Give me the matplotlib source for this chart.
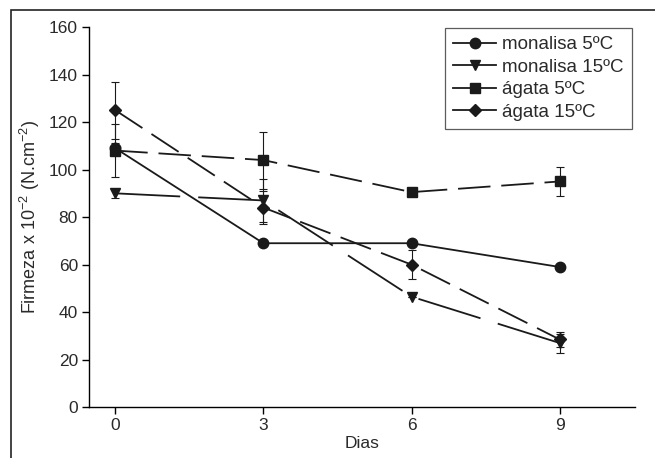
import numpy as np
import matplotlib.pyplot as plt
from matplotlib.patches import Rectangle

plt.rcParams['font.family'] = ['Liberation Sans', 'DejaVu Sans']
plt.rcParams['mathtext.fontset'] = 'custom'
plt.rcParams['mathtext.rm'] = 'Liberation Sans'
plt.rcParams['mathtext.it'] = 'Liberation Sans:italic'

# data
dias = [0, 3, 6, 9]
monalisa_5 = [109, 69, 69, 59]
monalisa_5_err = [2, 0, 0, 0]
monalisa_15 = [90, 87, 46.5, 27]
monalisa_15_err = [2, 9, 0, 4]
agata_5 = [108, 104, 90.5, 95]
agata_5_err = [11, 12, 0, 6]
agata_15 = [125, 84, 60, 28.5]
agata_15_err = [12, 7, 6, 3]

labels = ['monalisa 5ºC', 'monalisa 15ºC', 'ágata 5ºC', 'ágata 15ºC']

txt = '#2a2a2a'
fig = plt.figure(figsize=(6.55, 4.58), dpi=100)
ax = fig.add_axes([0.136, 0.111, 0.833, 0.830])

# border around the figure
fig.patches.append(Rectangle((11/655, -0.02), 1.0, 1 - 10/458 + 0.02,
                             transform=fig.transFigure, fill=False,
                             edgecolor='#222222', linewidth=1.2))

series = [
    (monalisa_5, monalisa_5_err, 'o', 7.5, '-'),
    (monalisa_15, monalisa_15_err, 'v', 7.5, (0, (36, 10))),
    (agata_5, agata_5_err, 's', 6.5, (0, (18, 6))),
    (agata_15, agata_15_err, 'D', 6.5, (0, (18, 6))),
]

handles = []
for (vals, err, mk, ms, ls), lab in zip(series, labels):
    ax.errorbar(dias, vals, yerr=err, fmt='none', ecolor='#1a1a1a',
                elinewidth=0.8, capsize=3, capthick=0.8, zorder=2)
    ax.plot(dias, vals, color='#1a1a1a', linestyle=ls, linewidth=1.3,
            marker=mk, markersize=ms, markerfacecolor='#1a1a1a',
            markeredgecolor='#1a1a1a', zorder=3)
    h, = ax.plot([], [], color='#1a1a1a', linestyle='-', linewidth=1.3,
                 marker=mk, markersize=ms, markerfacecolor='#1a1a1a')
    handles.append(h)

ax.set_xlim(-0.53, 10.52)
ax.set_ylim(0, 160)
ax.set_xticks([0, 3, 6, 9])
ax.set_yticks(np.arange(0, 161, 20))
ax.spines['top'].set_visible(False)
ax.spines['right'].set_visible(False)
ax.spines['left'].set_linewidth(1.0)
ax.spines['bottom'].set_linewidth(1.0)
ax.tick_params(direction='out', length=5, width=1.0, labelsize=12.5, pad=3,
               labelcolor=txt)

ax.set_xlabel('Dias', fontsize=12.5, labelpad=2, color=txt)
ax.set_ylabel('Firmeza x 10$^{-2}$ (N.cm$^{-2}$)', fontsize=13, labelpad=5,
              color=txt)

leg = ax.legend(handles, labels, loc='upper right', bbox_to_anchor=(1.0, 1.005),
                fontsize=13.5, frameon=True, fancybox=False, handlelength=2.3,
                handletextpad=0.3, labelspacing=0.28, borderpad=0.45,
                borderaxespad=0.15)
for t in leg.get_texts():
    t.set_color(txt)
leg.get_frame().set_edgecolor('#333333')
leg.get_frame().set_linewidth(0.9)

fig.savefig('out.png', dpi=100)
